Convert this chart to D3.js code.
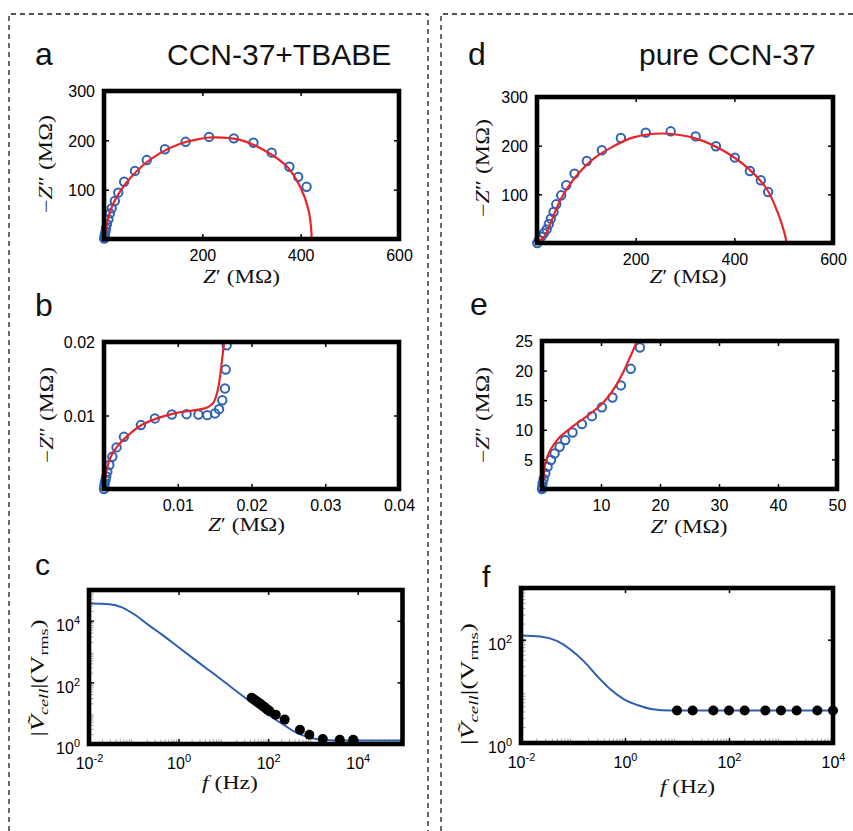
<!DOCTYPE html>
<html><head><meta charset="utf-8">
<script src="https://cdn.jsdelivr.net/npm/d3@7"></script>
<style>body{margin:0;background:#fff}svg{display:block}</style>
</head><body>
<svg id="fig" width="853" height="831"></svg>
<script>
// ---------- data ----------
// Panel a : CCN-37+TBABE Nyquist (MΩ)
const aMeasZre = [0.5,1,1.5,2,3,4,6,9,12,15.6,22,29,41,63,87,124,166,213.6,264,304,341,377,395,412];
const aMeasZim = [1,3,6,10,15,22,30,40,52,62,77,94,116,138,160,182,197,207,204,195,175,146.5,126,106];
const aFitZre = [1,4,9,19,32.5,53,80,114,155,195,220,277,331,372,399,416,422,422];
const aFitZim = [5,18,45,72,96,123,150,174,193,203,206,201,177,147,106,59,12,0];
const aXTicks = [200,400,600];
const aYTicks = [100,200,300];
// Panel b : CCN-37+TBABE zoom (MΩ)
const bMeasZre = [0,0.00005,0.0001,0.0002,0.0003,0.00045,0.00072,0.00113,0.0017,0.0027,0.005,0.0069,0.0092,0.0112,0.0128,0.014,0.01505,0.0156,0.01604,0.0164,0.0165,0.01664];
const bMeasZim = [0,0.0004,0.0008,0.0012,0.0017,0.00235,0.00326,0.00439,0.00566,0.0071,0.0087,0.0096,0.01014,0.01018,0.01014,0.01005,0.01028,0.01086,0.01208,0.01367,0.01625,0.01955];
const bFitZre = [0.00018,0.00045,0.00104,0.00194,0.0033,0.0051,0.00737,0.00986,0.01234,0.014,0.01482,0.01537,0.01573,0.016,0.01627];
const bFitZim = [0.00145,0.00303,0.00462,0.00597,0.00733,0.0087,0.00968,0.01036,0.01073,0.0111,0.01172,0.01321,0.01525,0.01752,0.0198];
const bXTicks = [0.01,0.02,0.03,0.04];
const bYTicks = [0.01,0.02];
// Panel c : CCN-37+TBABE |V_cell| vs f
const cMeasF = [42.7,46.8,51.3,56.2,61.7,67.6,74.1,81.3,89.1,97.7,107,148,234,513,832,1660,3980,7940];
const cMeasV = [31.6,28.8,26.3,24,21.9,20,17.8,16.2,14.5,12.9,11.7,8.9,6.2,2.9,2.0,1.45,1.38,1.38];
const cFitF = [0.01,0.0288,0.0562,0.11,0.219,0.427,1,2.34,5.5,12.6,29.5,89,224,447,871,2040,4790,79400,100000];
const cFitV = [36300,34700,26900,15100,7080,3550,1380,537,214,85,33,10,4.17,2.24,1.6,1.35,1.3,1.3,1.3];
const cXTicks = [1e-2,1,1e2,1e4];
const cYTicks = [1,1e2,1e4];
// Panel d : pure CCN-37 Nyquist (MΩ)
const dMeasZre = [0.5,4,9,14,19.6,24,28,33.6,39,49,59.3,76,101,131.5,170,220.5,271,321.6,362.7,401,431.5,453.7,468.5];
const dMeasZim = [0,6,13,20,28,39,50,63.7,79.5,98,118.6,142.6,168.5,190.5,215.8,226.8,229.5,219,198.7,175.5,148,128.8,104.8];
const dFitZre = [0,3,17,30,44,61,84,114.5,152,195.5,256,324,377,425,465,489,502,506];
const dFitZim = [0,2,16,47,81,112,143,173,197,217,225,214,190,156,112,60,19,0];
const dXTicks = [200,400,600];
const dYTicks = [100,200,300];
// Panel e : pure CCN-37 zoom (MΩ)
const eMeasZre = [0,0.03,0.1,0.27,0.56,0.95,1.52,2.13,2.98,3.94,5.18,6.77,8.46,10.15,11.95,13.36,15.05,16.6];
const eMeasZim = [0,0.3,0.96,1.69,2.65,3.76,4.9,6.0,7.13,8.26,9.55,10.96,12.3,13.8,15.45,17.5,20.3,23.9];
const eFitZre = [0.05,0.27,0.56,1.4,2.8,4.79,7.03,9.3,11,12.4,13.8,14.93,16.07];
const eFitZim = [0.8,2.07,4.33,6.57,8.55,10.23,11.9,13.6,15.3,17.25,19.8,22.3,24.83];
const eXTicks = [10,20,30,40,50];
const eYTicks = [5,10,15,20,25];
// Panel f : pure CCN-37 |V_cell| vs f
const fMeasF = [10,20,50,100,200,500,1000,2000,5000,10000];
const fMeasV = [4.25,4.25,4.25,4.25,4.25,4.25,4.25,4.25,4.25,4.25];
const fFitF = [0.01,0.0234,0.0501,0.0891,0.162,0.295,0.537,0.977,1.78,3.16,7.76,10000];
const fFitV = [120,115,93.3,64.6,38,19.5,10.7,6.92,5.37,4.57,4.27,4.25];
const fXTicks = [1e-2,1,1e2,1e4];
const fYTicks = [1,1e2];

// ---------- drawing ----------
const svg = d3.select("#fig");
const RED = "#e8232a", BLUE = "#2d64b4", LBLUE = "#2c5fae";
const SANS = "'Liberation Sans', Arial, sans-serif";
const SERIF = "'Liberation Serif', 'DejaVu Serif', serif";

// dashed separators
const dash = svg.append("g").attr("fill","none").attr("stroke","#1a1a1a").attr("stroke-width",1.3).attr("stroke-dasharray","5,4");
dash.append("path").attr("d","M9,831V14H428V831");
dash.append("path").attr("d","M441,831V14H853");

function styleAxis(sel){
  sel.select(".domain").remove();
  sel.attr("font-family", SANS).attr("font-size", 16).attr("fill","#111");
  sel.selectAll(".tick line").attr("stroke","#000").attr("stroke-width",1.5);
}
function fmtLin(d){ return d3.format("~g")(d); }

function axes(g, x, y, p, log){
  const bx = g.append("g").attr("transform",`translate(0,${p.B})`)
    .call(d3.axisBottom(x).tickValues(p.xTicks).tickSizeInner(-5).tickSizeOuter(0).tickPadding(log?14:10.5).tickFormat(log?()=>"":fmtLin));
  const tx = g.append("g").attr("transform",`translate(0,${p.T})`)
    .call(d3.axisTop(x).tickValues(p.xTicks).tickSizeInner(-5).tickSizeOuter(0).tickFormat(""));
  const ly = g.append("g").attr("transform",`translate(${p.L},0)`)
    .call(d3.axisLeft(y).tickValues(p.yTicks).tickSizeInner(-5).tickSizeOuter(0).tickPadding(9).tickFormat(log?()=>"":fmtLin));
  const ry = g.append("g").attr("transform",`translate(${p.R},0)`)
    .call(d3.axisRight(y).tickValues(p.yTicks).tickSizeInner(-5).tickSizeOuter(0).tickFormat(""));
  [bx,tx,ly,ry].forEach(styleAxis);
  ly.selectAll(".tick text").attr("dy", log ? "0.62em" : "0.36em");
  if (log){
    [bx,ly].forEach(a=>{
      a.selectAll(".tick text").each(function(d){
        const t = d3.select(this);
        t.append("tspan").text("10");
        t.append("tspan").attr("font-size",11).attr("dy",-7).text(Math.round(Math.log10(d)));
      });
    });
    // minor ticks (library-generated)
    const mx = x.ticks().filter(v=>Math.abs(Math.log10(v)-Math.round(Math.log10(v)))>1e-6);
    const my = y.ticks().filter(v=>Math.abs(Math.log10(v)-Math.round(Math.log10(v)))>1e-6);
    g.append("g").selectAll("line").data(mx).join("line")
      .attr("x1",d=>x(d)).attr("x2",d=>x(d)).attr("y1",p.B).attr("y2",p.B-4.5)
      .attr("stroke","#666").attr("stroke-width",1).attr("opacity",0.6);
    g.append("g").selectAll("line").data(my).join("line")
      .attr("y1",d=>y(d)).attr("y2",d=>y(d)).attr("x1",p.L).attr("x2",p.L+4.5)
      .attr("stroke","#666").attr("stroke-width",1).attr("opacity",0.6);
  }
}
function frame(g,p){
  g.append("rect").attr("x",p.L).attr("y",p.T).attr("width",p.R-p.L).attr("height",p.B-p.T)
    .attr("fill","none").attr("stroke","#000").attr("stroke-width",4.6);
}

function nyquist(p){
  const x = d3.scaleLinear().domain(p.xDom).range([p.L,p.R]);
  const y = d3.scaleLinear().domain(p.yDom).range([p.B,p.T]);
  const g = svg.append("g");
  axes(g,x,y,p,false);
  g.append("g").selectAll("circle").data(d3.zip(p.mx,p.my)).join("circle")
    .attr("cx",d=>x(d[0])).attr("cy",d=>y(d[1])).attr("r",4.2)
    .attr("fill","none").attr("stroke",BLUE).attr("stroke-width",2);
  g.append("path").datum(d3.zip(p.fx,p.fy)).attr("fill","none").attr("stroke",RED).attr("stroke-width",2.2)
    .attr("d", d3.line().x(d=>x(d[0])).y(d=>y(d[1])).curve(d3.curveCatmullRom.alpha(0.5)));
  frame(g,p);
}
function bode(p){
  const x = d3.scaleLog().domain(p.xDom).range([p.L,p.R]);
  const y = d3.scaleLog().domain(p.yDom).range([p.B,p.T]);
  const g = svg.append("g");
  axes(g,x,y,p,true);
  g.append("path").datum(d3.zip(p.fx,p.fy)).attr("fill","none").attr("stroke",LBLUE).attr("stroke-width",2)
    .attr("d", d3.line().x(d=>x(d[0])).y(d=>y(d[1])).curve(d3.curveMonotoneX));
  g.append("g").selectAll("circle").data(d3.zip(p.mx,p.my)).join("circle")
    .attr("cx",d=>x(d[0])).attr("cy",d=>y(d[1])).attr("r",5).attr("fill","#000");
  frame(g,p);
}

nyquist({L:104,R:399,T:91,B:239,xDom:[0,600],yDom:[0,300],xTicks:aXTicks,yTicks:aYTicks,mx:aMeasZre,my:aMeasZim,fx:aFitZre,fy:aFitZim});
nyquist({L:104,R:399,T:342,B:489,xDom:[0,0.04],yDom:[0,0.02],xTicks:bXTicks,yTicks:bYTicks,mx:bMeasZre,my:bMeasZim,fx:bFitZre,fy:bFitZim});
bode({L:89,R:402.5,T:590,B:744,xDom:[1e-2,1e5],yDom:[1,1e5],xTicks:cXTicks,yTicks:cYTicks,mx:cMeasF,my:cMeasV,fx:cFitF,fy:cFitV});
nyquist({L:537,R:833,T:97,B:243,xDom:[0,600],yDom:[0,300],xTicks:dXTicks,yTicks:dYTicks,mx:dMeasZre,my:dMeasZim,fx:dFitZre,fy:dFitZim});
nyquist({L:542,R:837,T:341,B:489,xDom:[0,50],yDom:[0,25],xTicks:eXTicks,yTicks:eYTicks,mx:eMeasZre,my:eMeasZim,fx:eFitZre,fy:eFitZim});
bode({L:521,R:833,T:588,B:743,xDom:[1e-2,1e4],yDom:[1,1e3],xTicks:fXTicks,yTicks:fYTicks,mx:fMeasF,my:fMeasV,fx:fFitF,fy:fFitV});

// ---------- text ----------
const txt = svg.append("g").attr("fill","#111");
function plain(x,y,s,size,anchor){
  return txt.append("text").attr("x",x).attr("y",y).attr("font-family",SANS).attr("font-size",size)
    .attr("text-anchor",anchor||"start").text(s);
}
plain(35,65,"a",32); plain(468,65,"d",32);
plain(35,316,"b",32); plain(470,315,"e",32);
plain(35,575,"c",30); plain(482,587,"f",30);
plain(167,65,"CCN-37+TBABE",30); plain(639,65,"pure CCN-37",30);

function zLabel(x,y,len){
  const t = txt.append("text").attr("x",x).attr("y",y).attr("font-family",SERIF).attr("font-size",18)
    .attr("text-anchor","middle").attr("textLength",len).attr("lengthAdjust","spacingAndGlyphs");
  t.append("tspan").attr("font-style","italic").text("Z");
  t.append("tspan").text("\u2032 (M\u03A9)");
}
function zzLabel(x,y,len){
  const t = txt.append("text").attr("transform",`translate(${x},${y}) rotate(-90)`).attr("font-family",SERIF).attr("font-size",18)
    .attr("text-anchor","middle").attr("textLength",len).attr("lengthAdjust","spacingAndGlyphs");
  t.append("tspan").text("\u2212");
  t.append("tspan").attr("font-style","italic").text("Z");
  t.append("tspan").text("\u2033 (M\u03A9)");
}
function fLabel(x,y,len){
  const t = txt.append("text").attr("x",x).attr("y",y).attr("font-family",SERIF).attr("font-size",18)
    .attr("text-anchor","middle").attr("textLength",len).attr("lengthAdjust","spacingAndGlyphs");
  t.append("tspan").attr("font-style","italic").text("f");
  t.append("tspan").text("  (Hz)");
}
function vLabel(x,y,len){
  const t = txt.append("text").attr("transform",`translate(${x},${y}) rotate(-90)`).attr("font-family",SERIF).attr("font-size",19)
    .attr("text-anchor","middle").attr("textLength",len).attr("lengthAdjust","spacingAndGlyphs");
  t.append("tspan").text("|");
  t.append("tspan").attr("font-style","italic").text("V\u0303");
  t.append("tspan").attr("font-style","italic").attr("font-size",13).attr("dy",4).text("cell");
  t.append("tspan").attr("dy",-4).text("|(V");
  t.append("tspan").attr("font-size",13).attr("dy",4).text("rms");
  t.append("tspan").attr("dy",-4).text(")");
}
zLabel(241.5,283,77); zLabel(246.5,531,77); zLabel(688,283,77); zLabel(689,533,77);
zzLabel(52,164,98); zzLabel(53,415,96); zzLabel(489,168,98); zzLabel(489,415,96);
fLabel(230,789,56); fLabel(687.5,793,55);
vLabel(44,678,117); vLabel(474,684,122);
</script>
</body></html>
